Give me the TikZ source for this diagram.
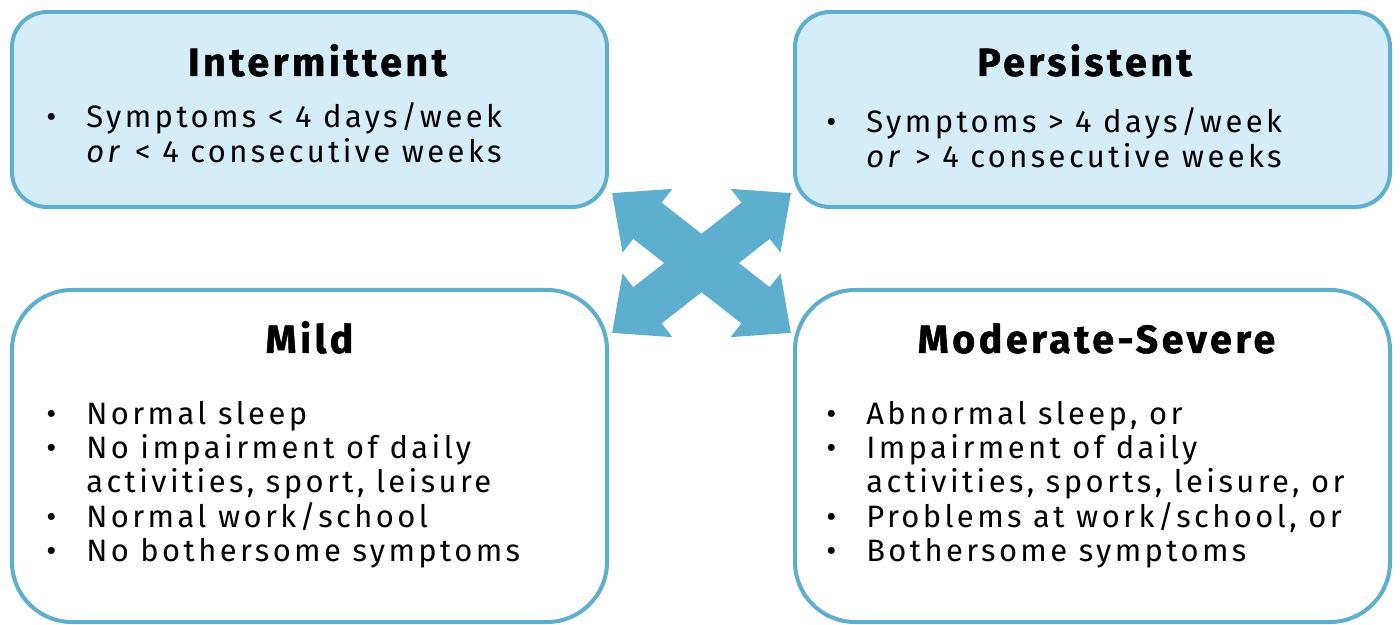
\documentclass[tikz,border=0pt]{standalone}
\usepackage{fontspec}
\setmainfont{Fira Sans}[LetterSpace=11]
\newfontfamily\headfamily{Fira Sans}[LetterSpace=9, FakeBold=1.2]
\usetikzlibrary{arrows.meta,positioning}

\definecolor{frame}{RGB}{94,174,208}
\definecolor{lightfill}{RGB}{212,237,249}

% bullet lines
\newcommand{\bitem}[1]{\textbullet & #1}
\newcommand{\bcont}[1]{ & #1}
\newenvironment{blist}{\begin{tabular}[t]{@{}p{10mm}@{}l@{}}}{\end{tabular}}

\tikzset{
  panel/.style={draw=frame, line width=1mm, minimum width=148.75mm, inner sep=0pt},
  toppanel/.style={panel, fill=lightfill, minimum height=48.75mm, rounded corners=8.75mm},
  botpanel/.style={panel, fill=white, minimum height=83mm, rounded corners=15mm},
  heading/.style={font=\headfamily\bfseries\fontsize{28}{30}\selectfont, anchor=base, inner sep=0pt},
  points/.style={font=\fontsize{22}{24.2}\selectfont, anchor=base west, inner sep=0pt},
  twoway/.style={draw=frame, line width=11.5mm,
    {Triangle[width=19.5mm,length=11.25mm]}-{Triangle[width=19.5mm,length=11.25mm]}}
}

\begin{document}
\begin{tikzpicture}[x=0.25mm, y=-0.25mm]
    \useasboundingbox (0,0) rectangle (1400,625);

    % four panels
    \node[toppanel] (intermittent) at (309.5,109.5) {};
    \node[toppanel] (persistent) at (1092.5,109.5) {};
    \node[botpanel] (mild) at (309.5,456) {};
    \node[botpanel] (severe) at (1092.5,456) {};

    % crossing arrows
    \coordinate (tl) at (612,193);
    \coordinate (tr) at (791,193);
    \coordinate (bl) at (612,333);
    \coordinate (br) at (791,333);
    \draw[twoway] (tl) -- (br);
    \draw[twoway] (tr) -- (bl);

    % headings
    \node[heading] (intermittent-title) at ([xshift=2mm, yshift=-16.5mm]intermittent.north) {Intermittent};
    \node[heading] (persistent-title) at ([xshift=-2mm, yshift=-16.5mm]persistent.north) {Persistent};
    \node[heading] (mild-title) at ([yshift=-16.25mm]mild.north) {Mild};
    \node[heading] (severe-title) at ([xshift=1mm, yshift=-16.25mm]severe.north) {Moderate-Severe};

    % bullet lists
    \node[points] (intermittent-list) at ([xshift=9mm, yshift=-29.5mm]intermittent.north west)
        {\begin{blist}\bitem{Symptoms < 4 days/week}\\ \bcont{\textit{or} < 4 consecutive weeks}\end{blist}};
    \node[points] (persistent-list) at ([xshift=8.25mm, yshift=-30.75mm]persistent.north west)
        {\begin{blist}\bitem{Symptoms > 4 days/week}\\ \bcont{\textit{or} > 4 consecutive weeks}\end{blist}};
    \node[points] (mild-list) at ([xshift=9mm, yshift=-34mm]mild.north west)
        {\begin{blist}\bitem{Normal sleep}\\ \bitem{No impairment of daily}\\ \bcont{activities, sport, leisure}\\
         \bitem{Normal work/school}\\ \bitem{No bothersome symptoms}\end{blist}};
    \node[points] (severe-list) at ([xshift=8.25mm, yshift=-34mm]severe.north west)
        {\begin{blist}\bitem{Abnormal sleep, or}\\ \bitem{Impairment of daily}\\ \bcont{activities, sports, leisure, or}\\
         \bitem{Problems at work/school, or}\\ \bitem{Bothersome symptoms}\end{blist}};
\end{tikzpicture}
\end{document}
